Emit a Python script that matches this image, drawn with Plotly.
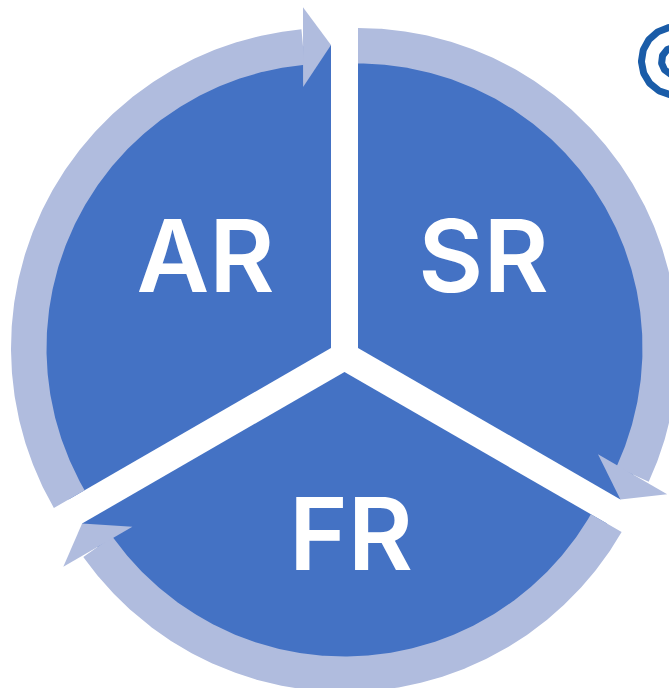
import numpy as np
import plotly.graph_objects as go

W, H = 669, 688
BLUE = "#4472C4"
RING = "#B0BCDE"
ICON = "#1A5CA8"

# Sectors: each one is exploded, so it has its own apex
labels = ["SR", "FR", "AR"]
label_x = [483.5, 351, 205.5]
label_y = [267, 545, 267]
apex_x = [358, 344.5, 331]
apex_y = [348, 372, 348]
sector_start = [0, 120, 240]
sector_end = [120, 240, 360]
r_inner = 284.5
r_ring_out = 320

# Arrowhead geometry relative to the sector's end angle (degrees, radius)
tip_r = 303
inner_offset, inner_r = -6.1, 262.5
outer_offset, outer_r = -4.7, 342

# Ring arcs stop short of the arrowhead, which points at the sector's end angle
arc_stop = [114.7, 234.7, 354.7]

# Partially visible target icon at the right edge
icon_center = (675.5, 61.0)
icon_r = [34, 14]
icon_w = 7


def pt(a, r, c):
    t = np.radians(a)
    return c[0] + r * np.sin(t), c[1] - r * np.cos(t)


fig = go.Figure()


def poly(xs, ys, color):
    fig.add_trace(go.Scatter(x=list(xs), y=list(ys), mode="lines", fill="toself",
                             fillcolor=color, line=dict(width=0, color=color),
                             hoverinfo="skip", showlegend=False))


for i in range(3):
    c = (apex_x[i], apex_y[i])
    # sector: reaches the arrow tip, the ring covers its outer band
    th = np.linspace(sector_start[i], sector_end[i], 300)
    x, y = pt(th, tip_r, c)
    poly(np.r_[c[0], x, c[0]], np.r_[c[1], y, c[1]], BLUE)
    # ring arc
    th = np.linspace(sector_start[i], arc_stop[i], 300)
    xo, yo = pt(th, r_ring_out, c)
    xi, yi = pt(th[::-1], r_inner, c)
    poly(np.r_[xo, xi], np.r_[yo, yi], RING)
    # arrowhead
    e = sector_end[i]
    p = [pt(e + inner_offset, inner_r, c), pt(e, tip_r, c), pt(e + outer_offset, outer_r, c)]
    poly([q[0] for q in p], [q[1] for q in p], RING)

# icon
for r in icon_r:
    th = np.linspace(0, 360, 181)
    x, y = pt(th, r, icon_center)
    fig.add_trace(go.Scatter(x=x, y=y, mode="lines", line=dict(color=ICON, width=icon_w),
                             hoverinfo="skip", showlegend=False))

# labels
fig.add_trace(go.Scatter(x=label_x, y=label_y, mode="text", text=labels,
                         textposition="middle center",
                         textfont=dict(family="Inter", size=100, color="white", weight=600),
                         hoverinfo="skip", showlegend=False))

fig.update_layout(
    width=W, height=H, margin=dict(l=0, r=0, t=0, b=0),
    paper_bgcolor="white", plot_bgcolor="white",
    xaxis=dict(range=[0, W], visible=False, fixedrange=True),
    yaxis=dict(range=[H, 0], visible=False, fixedrange=True),
    showlegend=False,
)
fig.write_html("out.html", config={"displayModeBar": False},
               post_script="document.body.style.margin='0';document.body.style.overflow='hidden';")
